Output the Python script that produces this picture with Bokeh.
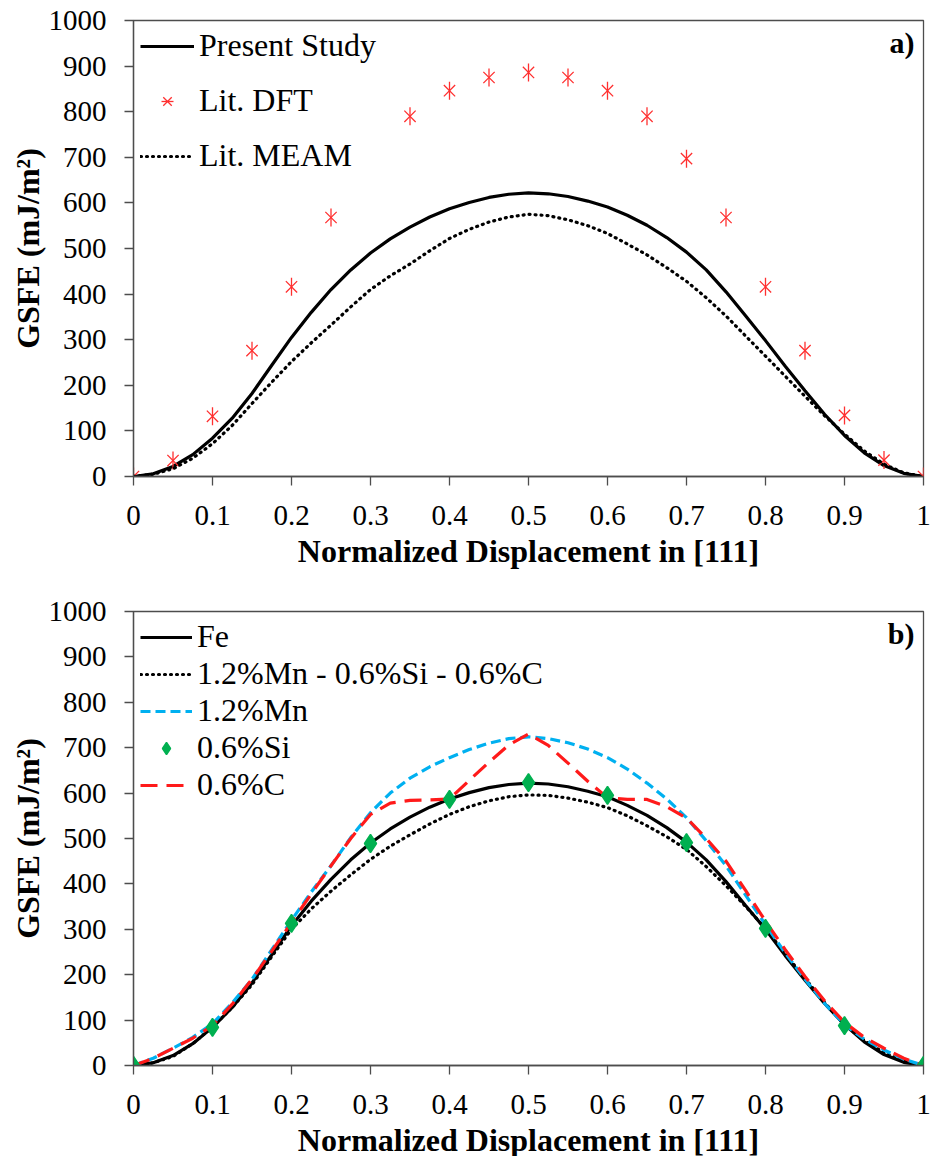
from bokeh.plotting import figure
from bokeh.layouts import column
from bokeh.models import Legend, LegendItem, Label, FixedTicker, Range1d
from bokeh.embed import file_html
from bokeh.resources import INLINE

# ---------------- data ----------------
disp = [0.0, 0.025, 0.05, 0.075, 0.1, 0.125, 0.15, 0.175, 0.2, 0.225,
        0.25, 0.275, 0.3, 0.325, 0.35, 0.375, 0.4, 0.425, 0.45, 0.475,
        0.5, 0.525, 0.55, 0.575, 0.6, 0.625, 0.65, 0.675, 0.7, 0.725,
        0.75, 0.775, 0.8, 0.825, 0.85, 0.875, 0.9, 0.925, 0.95, 0.975, 1.0]

# panel a
present_study = [0, 6, 22, 48, 84, 128, 182, 244, 305, 360,
                 410, 453, 490, 521, 547, 569, 587, 601, 612, 619,
                 622, 620, 614, 604, 591, 573, 551, 524, 492, 453,
                 405, 352, 298, 242, 188, 136, 90, 52, 24, 7, 0]
lit_meam = [0, 5, 17, 40, 72, 112, 160, 207, 252, 293,
            332, 372, 410, 440, 466, 495, 522, 542, 558, 569,
            575, 572, 563, 550, 533, 510, 486, 458, 428, 392,
            352, 308, 264, 220, 176, 133, 93, 56, 27, 8, 0]
dft_x = [0.0, 0.05, 0.1, 0.15, 0.2, 0.25, 0.35, 0.4, 0.45, 0.5,
         0.55, 0.6, 0.65, 0.7, 0.75, 0.8, 0.85, 0.9, 0.95, 1.0]
dft_y = [0, 35, 132, 276, 416, 568, 790, 846, 875, 886,
         875, 846, 790, 697, 568, 416, 276, 134, 36, 0]

# panel b
fe = [0, 6, 22, 48, 84, 128, 182, 244, 308, 362,
      410, 453, 490, 521, 547, 569, 587, 601, 612, 619,
      622, 620, 614, 604, 592, 573, 551, 524, 492, 453,
      405, 352, 300, 242, 188, 136, 90, 52, 24, 7, 0]
mn_si_c = [0, 6, 20, 48, 85, 128, 178, 240, 300, 345,
           384, 420, 454, 483, 508, 532, 553, 570, 583, 592,
           596, 595, 589, 580, 568, 550, 528, 504, 476, 438,
           396, 350, 302, 246, 192, 138, 90, 55, 28, 10, 0]
mn = [0, 16, 38, 62, 92, 138, 190, 255, 320, 382,
      440, 502, 557, 600, 633, 658, 678, 696, 710, 720,
      724, 720, 711, 697, 678, 653, 622, 587, 546, 495,
      440, 375, 310, 248, 190, 136, 90, 58, 34, 14, 0]
c = [0, 16, 38, 60, 88, 135, 190, 252, 315, 378,
     440, 500, 553, 578, 584, 585, 587, 628, 668, 706,
     730, 705, 666, 626, 590, 586, 586, 570, 545, 500,
     450, 385, 318, 255, 196, 142, 95, 62, 38, 16, 0]
si_x = [0.0, 0.1, 0.2, 0.3, 0.4, 0.5, 0.6, 0.7, 0.8, 0.9, 1.0]
si_y = [0, 84, 313, 489, 586, 623, 595, 491, 302, 88, 0]

x_ticks = [0.0, 0.1, 0.2, 0.3, 0.4, 0.5, 0.6, 0.7, 0.8, 0.9, 1.0]
x_tick_labels = ["0", "0.1", "0.2", "0.3", "0.4", "0.5", "0.6", "0.7", "0.8", "0.9", "1"]
y_ticks = [0, 100, 200, 300, 400, 500, 600, 700, 800, 900, 1000]

FONT = "Liberation Serif"
AXC = "#4d4d4d"


def base_fig(frame_h, top, bottom):
    p = figure(frame_width=790, frame_height=frame_h,
               x_range=Range1d(0, 1), y_range=Range1d(0, 1000),
               output_backend="svg", toolbar_location=None,
               min_border_left=133, min_border_right=8,
               min_border_top=top, min_border_bottom=bottom)
    p.xgrid.visible = False
    p.ygrid.visible = False
    p.outline_line_color = AXC
    p.outline_line_width = 1.3
    p.background_fill_color = "white"
    p.border_fill_color = "white"
    for ax in (p.xaxis[0], p.yaxis[0]):
        ax.axis_line_color = AXC
        ax.axis_line_width = 1.3
        ax.major_tick_line_color = AXC
        ax.major_tick_line_width = 1.3
        ax.major_tick_in = 0
        ax.major_tick_out = 9
        ax.minor_tick_line_color = None
        ax.major_label_text_font = FONT
        ax.major_label_text_font_size = "29px"
        ax.major_label_text_color = "black"
        ax.axis_label_text_font = FONT
        ax.axis_label_text_font_size = "32px"
        ax.axis_label_text_font_style = "bold"
        ax.axis_label_text_color = "black"
    p.xaxis.ticker = FixedTicker(ticks=x_ticks)
    p.xaxis.major_label_overrides = {t: l for t, l in zip(x_ticks, x_tick_labels)}
    p.yaxis.ticker = FixedTicker(ticks=y_ticks)
    p.xaxis.axis_label = "Normalized Displacement in [111]"
    p.yaxis.axis_label = "GSFE (mJ/m\u00b2)"
    p.xaxis.major_label_standoff = 20
    p.yaxis.major_label_standoff = 18
    p.xaxis.axis_label_standoff = 5
    p.yaxis.axis_label_standoff = 0
    return p


def panel_label(p, text):
    lab = Label(x=1, y=1000, x_offset=-9, y_offset=-5, text=text,
                text_align="right", text_baseline="top",
                text_font=FONT, text_font_size="30px", text_font_style="bold",
                text_color="black")
    p.add_layout(lab)


# ---------------- panel a ----------------
p1 = base_fig(456, 20, 104)
r_ps = p1.line(disp, present_study, line_color="black", line_width=3.2)
r_dx = p1.scatter(dft_x, dft_y, marker="x", size=16, line_color="#FF3030", line_width=1.3)
r_dv = p1.scatter(dft_x, dft_y, marker="dash", angle=1.5708, size=18,
                  line_color="#FF3030", line_width=1.3)
r_me = p1.line(disp, lit_meam, line_color="black", line_width=3.2,
               line_dash="1 5", line_cap="round")
leg1 = Legend(items=[LegendItem(label="Present Study", renderers=[r_ps]),
                     LegendItem(label="Lit. DFT", renderers=[r_dx, r_dv]),
                     LegendItem(label="Lit. MEAM", renderers=[r_me])],
              location="top_left", border_line_alpha=0, background_fill_alpha=0,
              label_text_font=FONT, label_text_font_size="32px", label_text_color="black",
              glyph_width=54, glyph_height=30, label_height=30,
              label_standoff=5, spacing=18, padding=3, margin=4)
p1.add_layout(leg1)
panel_label(p1, "a)")

# ---------------- panel b ----------------
p2 = base_fig(454, 31, 90)
r_fe = p2.line(disp, fe, line_color="black", line_width=3.2)
r_mix = p2.line(disp, mn_si_c, line_color="black", line_width=3.2,
                line_dash="1 5", line_cap="round")
r_mn = p2.line(disp, mn, line_color="#00B0F0", line_width=3.2, line_dash="10 5")
r_c = p2.line(disp, c, line_color="#FF1A1A", line_width=3.2, line_dash="17 9")
r_si = p2.scatter(si_x, si_y, marker="diamond", size=18,
                  fill_color="#00B050", line_color="#00B050", line_width=1.5)
leg2 = Legend(items=[LegendItem(label="Fe", renderers=[r_fe]),
                     LegendItem(label="1.2%Mn - 0.6%Si - 0.6%C", renderers=[r_mix]),
                     LegendItem(label="1.2%Mn", renderers=[r_mn]),
                     LegendItem(label="0.6%Si", renderers=[r_si]),
                     LegendItem(label="0.6%C", renderers=[r_c])],
              location="top_left", border_line_alpha=0, background_fill_alpha=0,
              label_text_font=FONT, label_text_font_size="32px", label_text_color="black",
              glyph_width=52, glyph_height=30, label_height=30,
              label_standoff=5, spacing=0, padding=3, margin=4)
p2.add_layout(leg2)
panel_label(p2, "b)")

layout = column(p1, p2)
open("out.html", "w").write(file_html(layout, INLINE))
